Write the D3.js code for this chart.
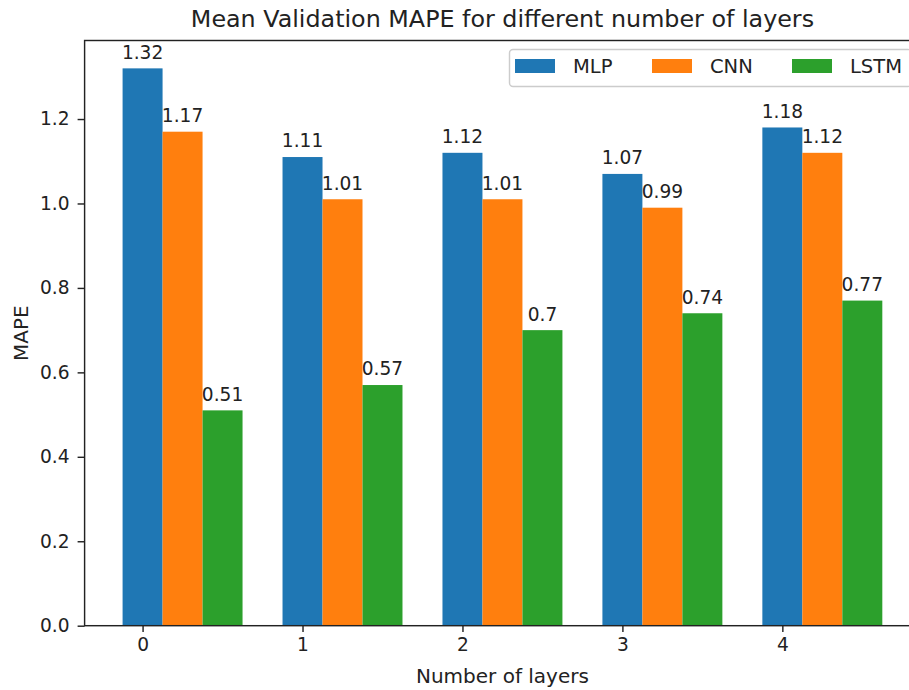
<!DOCTYPE html>
<html>
<head>
<meta charset="utf-8">
<script src="https://cdn.jsdelivr.net/npm/d3@7"></script>
<style>
  body { margin: 0; background: #fff; }
  svg { display: block; font-family: "DejaVu Sans", sans-serif; }
</style>
</head>
<body>
<svg id="chart" width="909" height="690"></svg>
<script>
// number of layers on the x axis
const layers = [0, 1, 2, 3, 4];
const seriesNames = ["MLP", "CNN", "LSTM"];
const mlp = [1.32, 1.11, 1.12, 1.07, 1.18];
const cnn = [1.17, 1.01, 1.01, 0.99, 1.12];
const lstm = [0.51, 0.57, 0.7, 0.74, 0.77];
const yTicks = [0, 0.2, 0.4, 0.6, 0.8, 1.0, 1.2];

const colors = ["#1f77b4", "#ff7f0e", "#2ca02c"];
const series = [mlp, cnn, lstm];
const barWidth = 0.25;

const width = 909, height = 690;
const numSize = 18.6;   // tick and bar labels
const labelSize = 20;   // axis labels
const svg = d3.select("#chart");

// axes box (right edge lies just past the picture, as in the reference)
const x = d3.scaleLinear().domain([-0.3625, 4.8625]).range([84.6, 920.3]);
const y = d3.scaleLinear().domain([0, 1.386]).range([625.7, 40.5]);

const plot = svg.append("g");

// bars, offset by series index like matplotlib's x + i*width
series.forEach((vals, s) => {
    const g = plot.append("g");
    g.selectAll("rect").data(vals).join("rect")
        .attr("x", (d, i) => x(layers[i] + s * barWidth - barWidth / 2))
        .attr("width", x(barWidth) - x(0))
        .attr("y", d => y(d))
        .attr("height", d => y(0) - y(d))
        .attr("fill", colors[s]);

    g.selectAll("text").data(vals).join("text")
        .attr("x", (d, i) => x(layers[i] + s * barWidth))
        .attr("y", d => y(d) - 9.6)
        .attr("text-anchor", "middle")
        .attr("font-size", numSize)
        .attr("fill", "#222")
        .text(d => String(d));
});

// frame
const [x0, x1] = x.range();
const [yb, yt] = y.range();
plot.append("rect")
    .attr("x", x0).attr("y", yt)
    .attr("width", x1 - x0).attr("height", yb - yt)
    .attr("fill", "none").attr("stroke", "#222").attr("stroke-width", 1.44);

// x axis
const xAxis = svg.append("g")
    .attr("transform", `translate(0,${yb})`)
    .call(d3.axisBottom(x).tickValues(layers).tickFormat(d3.format("d")).tickSize(6.3).tickPadding(6.3));
// y axis
const yAxis = svg.append("g")
    .attr("transform", `translate(${x0},0)`)
    .call(d3.axisLeft(y).tickValues(yTicks).tickFormat(d3.format(".1f")).tickSize(7).tickPadding(8));

[xAxis, yAxis].forEach(a => {
    a.select(".domain").remove();
    a.selectAll(".tick line").attr("stroke", "#222").attr("stroke-width", 1.44);
    a.selectAll(".tick text")
        .attr("font-family", "DejaVu Sans")
        .attr("font-size", numSize)
        .attr("fill", "#222");
});

// title and axis labels
svg.append("text")
    .attr("x", (x0 + x1) / 2).attr("y", 27)
    .attr("text-anchor", "middle")
    .attr("font-size", 23.8)
    .attr("fill", "#222")
    .text("Mean Validation MAPE for different number of layers");

svg.append("text")
    .attr("x", (x0 + x1) / 2).attr("y", 683)
    .attr("text-anchor", "middle")
    .attr("font-size", labelSize)
    .attr("fill", "#222")
    .text("Number of layers");

svg.append("text")
    .attr("transform", `translate(28,${(yb + yt) / 2}) rotate(-90)`)
    .attr("text-anchor", "middle")
    .attr("font-size", labelSize)
    .attr("fill", "#222")
    .text("MAPE");

// legend, three columns in the upper right
const legend = svg.append("g");
legend.append("rect")
    .attr("x", 509.5).attr("y", 49.5)
    .attr("width", 402).attr("height", 37)
    .attr("rx", 3.5)
    .attr("fill", "#fff").attr("fill-opacity", 0.8)
    .attr("stroke", "#ccc").attr("stroke-width", 1.44);

const legendX = [515, 652, 792];
const item = legend.selectAll("g.item").data(seriesNames).join("g")
    .attr("class", "item")
    .attr("transform", (d, i) => `translate(${legendX[i]},59)`);
item.append("rect")
    .attr("width", 40).attr("height", 14)
    .attr("fill", (d, i) => colors[i]);
item.append("text")
    .attr("x", 58).attr("y", 14)
    .attr("font-size", 19.5)
    .attr("fill", "#222")
    .text(d => d);
</script>
</body>
</html>
